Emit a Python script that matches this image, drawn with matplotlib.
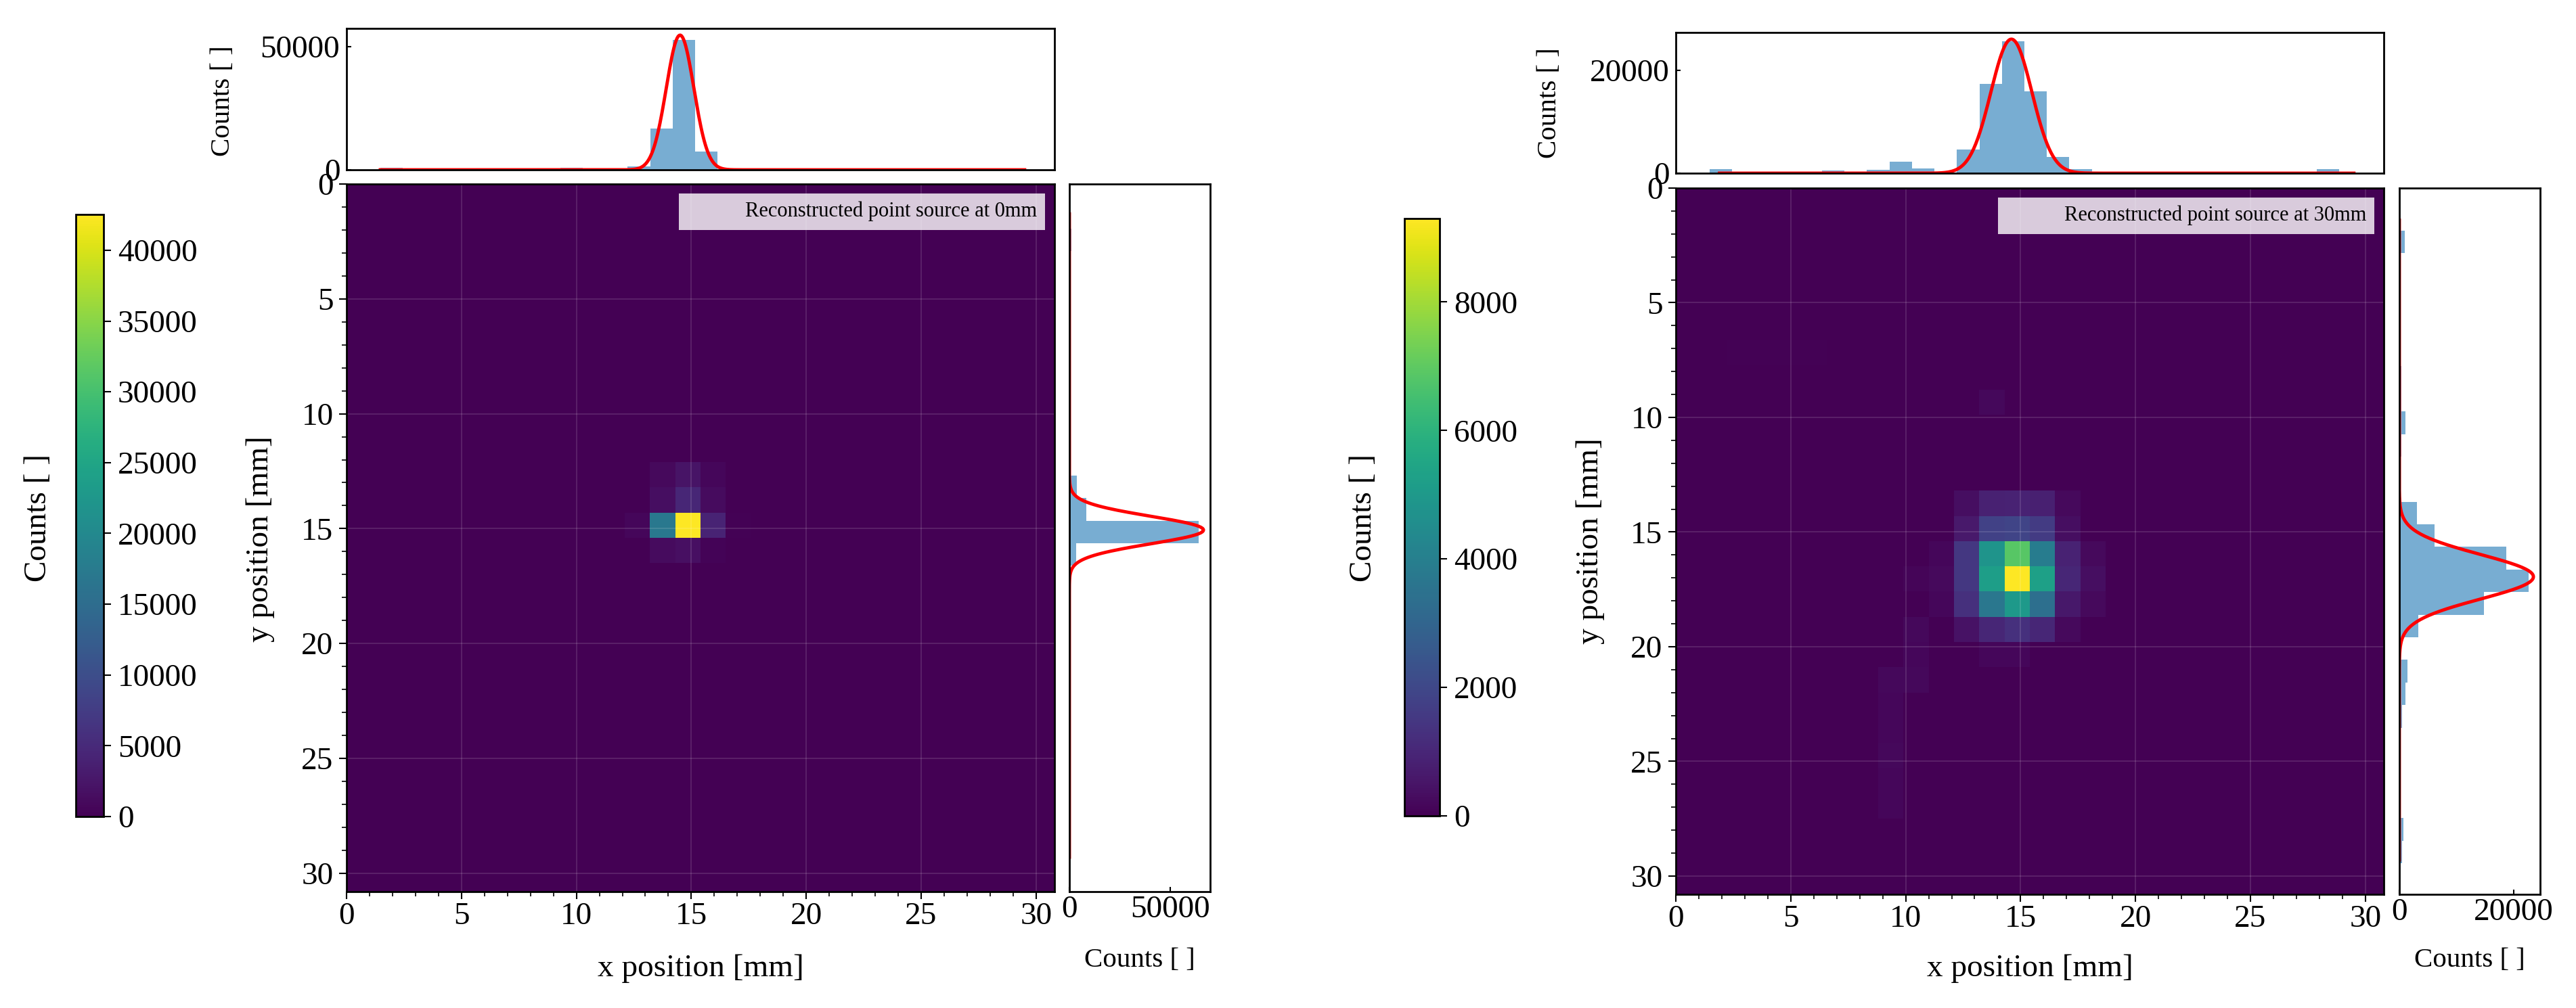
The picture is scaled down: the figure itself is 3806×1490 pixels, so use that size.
import numpy as np
import matplotlib
matplotlib.use("Agg")
import matplotlib.pyplot as plt
from matplotlib.ticker import MultipleLocator

plt.rcParams['font.family'] = ['Liberation Serif', 'DejaVu Serif']

# ---------------- data ----------------
n_pix = 28
det_size = 30.8  # mm

# left panel (source at 0 mm): non-zero pixels (row, col, counts)
left_rows = [11, 11, 11, 12, 12, 12, 13, 13, 13, 13, 13, 14, 14, 14]
left_cols = [12, 13, 14, 12, 13, 14, 11, 12, 13, 14, 15, 12, 13, 14]
left_vals = [1000, 2200, 700, 1500, 4500, 1200, 800, 17000, 42530, 4200, 300, 1200, 1800, 400]

# right panel (source at 30 mm)
right_rows = [12, 12, 12, 12, 12,
              13, 13, 13, 13, 13,
              14, 14, 14, 14, 14, 14, 14,
              15, 15, 15, 15, 15, 15, 15, 15,
              16, 16, 16, 16, 16, 16, 16,
              17, 17, 17, 17, 17, 17,
              18, 18, 18,
              19, 19, 20, 21, 22, 23, 24, 8, 6, 6, 6, 6]
right_cols = [11, 12, 13, 14, 15,
              11, 12, 13, 14, 15,
              10, 11, 12, 13, 14, 15, 16,
              9, 10, 11, 12, 13, 14, 15, 16,
              10, 11, 12, 13, 14, 15, 16,
              9, 11, 12, 13, 14, 15,
              9, 12, 13,
              8, 9, 8, 8, 8, 8, 8, 12, 2, 3, 4, 5]
right_vals = [350, 850, 900, 800, 250,
              650, 1800, 1900, 1600, 350,
              180, 1500, 4800, 6900, 3900, 900, 250,
              120, 220, 1500, 5200, 9300, 5300, 1000, 350,
              150, 1300, 3700, 5000, 3400, 600, 250,
              200, 450, 1000, 1300, 1000, 250,
              170, 160, 160,
              200, 200, 170, 150, 200, 170, 150, 200, 60, 60, 60, 60]

# marginal histograms (28 bins each)
left_top_range = (1.47, 28.86)
left_top_counts = [800, 0, 0, 0, 0, 0, 0, 0, 830, 0, 0, 1400, 16850, 52800,
                   7460, 0, 0, 0, 0, 0, 0, 0, 0, 0, 0, 0, 0, 600]
left_side_range = (1.94, 29.32)
left_side_counts = [1000, 0, 0, 0, 0, 0, 0, 0, 0, 0, 0, 3600, 8300, 64000,
                    3300, 0, 0, 0, 0, 0, 0, 0, 0, 0, 0, 0, 0, 0]
right_top_range = (1.47, 28.86)
right_top_counts = [800, 260, 0, 100, 300, 530, 300, 660, 2250, 930, 100, 4630, 17350, 25700,
                    15900, 3180, 800, 150, 150, 80, 80, 80, 100, 100, 100, 100, 150, 800]
right_side_range = (1.86, 29.44)
right_side_counts = [950, 0, 0, 0, 0, 0, 400, 400, 1060, 300, 250, 100, 3140, 6200,
                     18700, 22700, 14800, 3300, 250, 1370, 1060, 500, 100, 0, 0, 0, 700, 500]

# gaussian fits: (amplitude, mean, sigma, drawn range)
left_top_fit = (54700, 14.51, 0.60, 1.47, 29.5)
left_side_fit = (66500, 15.06, 0.60, 1.30, 29.3)
right_top_fit = (26100, 14.60, 0.89, 1.90, 29.5)
right_side_fit = (23500, 16.95, 0.97, 1.40, 29.3)

left_label = "Reconstructed point source at 0mm"
right_label = "Reconstructed point source at 30mm"
left_cbar_ticks = [0, 5000, 10000, 15000, 20000, 25000, 30000, 35000, 40000]
right_cbar_ticks = [0, 2000, 4000, 6000, 8000]
left_top_ticks = [0, 50000]
left_side_ticks = [0, 50000]
right_top_ticks = [0, 20000]
right_side_ticks = [0, 20000]

# ---------------- figure ----------------
W, H = 3806, 1490
DPI = 100
fig = plt.figure(figsize=(W / DPI, H / DPI), dpi=DPI)

def px_axes(x0, y0, x1, y1):
    return fig.add_axes([x0 / W, 1 - y1 / H, (x1 - x0) / W, (y1 - y0) / H])

TICK_FS = 34
LABEL_FS = 34
HLABEL_FS = 29.5
hist_color = '#1f77b4'

def build_grid(rows, cols, vals):
    g = np.zeros((n_pix, n_pix))
    for r, c, v in zip(rows, cols, vals):
        g[r, c] = v
    return g

def gauss(p):
    A, mu, s, lo, hi = p
    t = np.linspace(lo, hi, 600)
    return t, A * np.exp(-0.5 * ((t - mu) / s) ** 2)

def style_spines(ax, lw=2.0):
    for sp in ax.spines.values():
        sp.set_linewidth(lw)

def panel(grid, pos, label, cbar_ticks, top_rng, top_counts, side_rng, side_counts,
          top_fit, side_fit, top_ticks, side_ticks, labels_pos):
    hx0, hy0, hx1, hy1 = pos['heat']
    axh = px_axes(hx0, hy0, hx1, hy1)
    im = axh.imshow(grid, cmap='viridis', extent=[0, det_size, det_size, 0],
                    interpolation='nearest', aspect='auto')
    axh.set_xlim(0, det_size)
    axh.set_ylim(det_size, 0)
    axh.xaxis.set_major_locator(MultipleLocator(5))
    axh.yaxis.set_major_locator(MultipleLocator(5))
    axh.xaxis.set_minor_locator(MultipleLocator(1))
    axh.yaxis.set_minor_locator(MultipleLocator(1))
    axh.tick_params(which='major', direction='out', length=8, width=1.5,
                    labelsize=TICK_FS, pad=3)
    axh.tick_params(which='minor', direction='out', length=5, width=1.2)
    axh.tick_params(axis='y', which='major', pad=6)
    axh.grid(True, which='major', color='white', alpha=0.12, lw=1.5)
    style_spines(axh)
    axh.plot([], [], ' ', label=label)
    axh.legend(loc='upper right', fontsize=22, frameon=True, fancybox=False,
               framealpha=0.8, facecolor='white', edgecolor='none',
               borderaxespad=0.45)

    # top histogram
    axt = px_axes(*pos['top'])
    tedges = np.linspace(top_rng[0], top_rng[1], len(top_counts) + 1)
    axt.hist(tedges[:-1], bins=tedges, weights=top_counts, color=hist_color, alpha=0.6)
    tx, ty = gauss(top_fit)
    axt.plot(tx, ty, color='red', lw=3.5)
    axt.set_xlim(0, det_size)
    axt.set_yticks(top_ticks)
    axt.tick_params(axis='x', bottom=False, labelbottom=False)
    axt.tick_params(axis='y', direction='in', length=5, width=1.5,
                    labelsize=TICK_FS, pad=7)
    style_spines(axt)

    # side histogram
    axs = px_axes(*pos['side'])
    sedges = np.linspace(side_rng[0], side_rng[1], len(side_counts) + 1)
    axs.hist(sedges[:-1], bins=sedges, weights=side_counts, color=hist_color,
             alpha=0.6, orientation='horizontal')
    sy, sx = gauss(side_fit)
    axs.plot(sx, sy, color='red', lw=3.5)
    axs.set_ylim(det_size, 0)
    axs.set_xticks(side_ticks)
    axs.tick_params(axis='y', left=False, labelleft=False)
    axs.tick_params(axis='x', direction='in', length=5, width=1.5,
                    labelsize=TICK_FS, pad=4)
    style_spines(axs)

    # colorbar
    axc = px_axes(*pos['cbar'])
    cb = fig.colorbar(im, cax=axc, ticks=cbar_ticks)
    cb.ax.tick_params(direction='out', length=8, width=1.5, labelsize=TICK_FS, pad=7)
    cb.outline.set_linewidth(2.0)

    lp = labels_pos
    fig.text(lp['cbar'][0] / W, 1 - lp['cbar'][1] / H, 'Counts [ ]', rotation=90,
             ha='center', va='center', fontsize=LABEL_FS)
    fig.text(lp['ylab'][0] / W, 1 - lp['ylab'][1] / H, 'y position [mm]', rotation=90,
             ha='center', va='center', fontsize=LABEL_FS)
    fig.text(lp['xlab'][0] / W, 1 - lp['xlab'][1] / H, 'x position [mm]',
             ha='center', va='center', fontsize=LABEL_FS)
    fig.text(lp['side'][0] / W, 1 - lp['side'][1] / H, 'Counts [ ]',
             ha='center', va='center', fontsize=HLABEL_FS)
    fig.text(lp['top'][0] / W, 1 - lp['top'][1] / H, 'Counts [ ]', rotation=90,
             ha='center', va='center', fontsize=HLABEL_FS)

left_grid = build_grid(left_rows, left_cols, left_vals)
right_grid = build_grid(right_rows, right_cols, right_vals)

panel(left_grid,
      dict(heat=(512, 272, 1558, 1318), top=(512, 42, 1558, 251),
           side=(1580, 272, 1788, 1318), cbar=(112, 317, 153, 1207)),
      left_label, left_cbar_ticks, left_top_range, left_top_counts,
      left_side_range, left_side_counts, left_top_fit, left_side_fit,
      left_top_ticks, left_side_ticks,
      dict(cbar=(57, 765), ylab=(385, 797), xlab=(1035, 1432),
           side=(1684, 1420), top=(330, 149)))

panel(right_grid,
      dict(heat=(2476, 278, 3522, 1322), top=(2476, 48, 3522, 256),
           side=(3545, 278, 3753, 1322), cbar=(2075, 323, 2127, 1206)),
      right_label, right_cbar_ticks, right_top_range, right_top_counts,
      right_side_range, right_side_counts, right_top_fit, right_side_fit,
      right_top_ticks, right_side_ticks,
      dict(cbar=(2015, 765), ylab=(2350, 800), xlab=(2999, 1432),
           side=(3649, 1420), top=(2289, 152)))

fig.savefig('out.png', dpi=DPI, facecolor='white')
